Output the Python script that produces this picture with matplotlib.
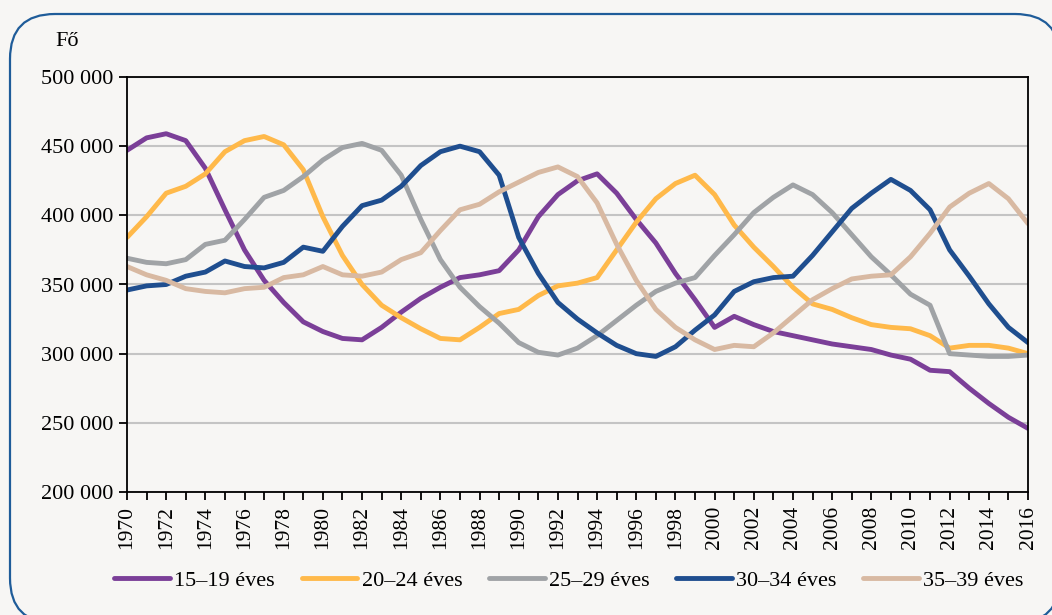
import numpy as np
import matplotlib
matplotlib.use("Agg")
import matplotlib.pyplot as plt
from matplotlib.patches import FancyBboxPatch

plt.rcParams['font.family'] = ['Liberation Serif', 'DejaVu Serif']

years = list(range(1970, 2017))

age_15_19 = [447, 456, 459, 454, 434, 404, 375, 353, 337, 323, 316, 311, 310, 319, 330, 340,
             348, 355, 357, 360, 375, 399, 415, 425, 430, 416, 397, 380, 358, 339, 319, 327,
             321, 316, 313, 310, 307, 305, 303, 299, 296, 288, 287, 275, 264, 254, 246]
age_20_24 = [384, 399, 416, 421, 430, 446, 454, 457, 451, 433, 399, 371, 350, 335, 326, 318,
             311, 310, 319, 329, 332, 342, 349, 351, 355, 375, 395, 412, 423, 429, 415, 393,
             377, 363, 348, 336, 332, 326, 321, 319, 318, 313, 304, 306, 306, 304, 300]
age_25_29 = [369, 366, 365, 368, 379, 382, 397, 413, 418, 428, 440, 449, 452, 447, 429, 397,
             368, 348, 334, 322, 308, 301, 299, 304, 313, 324, 335, 345, 351, 355, 371, 386,
             402, 413, 422, 415, 402, 386, 370, 357, 343, 335, 300, 299, 298, 298, 299]
age_30_34 = [346, 349, 350, 356, 359, 367, 363, 362, 366, 377, 374, 392, 407, 411, 421, 436,
             446, 450, 446, 429, 384, 358, 337, 325, 315, 306, 300, 298, 305, 317, 328, 345,
             352, 355, 356, 371, 388, 405, 416, 426, 418, 404, 375, 356, 336, 319, 308]
age_35_39 = [363, 357, 353, 347, 345, 344, 347, 348, 355, 357, 363, 357, 356, 359, 368, 373,
             389, 404, 408, 417, 424, 431, 435, 428, 409, 379, 353, 332, 319, 310, 303, 306,
             305, 315, 327, 339, 347, 354, 356, 357, 370, 387, 406, 416, 423, 412, 394]

series = [
    ("15–19 éves", age_15_19, "#7b3f98"),
    ("20–24 éves", age_20_24, "#ffb94a"),
    ("25–29 éves", age_25_29, "#a0a3a6"),
    ("30–34 éves", age_30_34, "#1f4e8f"),
    ("35–39 éves", age_35_39, "#d8b9a2"),
]

bg = "#f7f6f4"
W, H = 1052, 615
fig = plt.figure(figsize=(W / 100, H / 100), dpi=100, facecolor=bg)

# rounded frame around the whole chart
frame = fig.add_axes([0, 0, 1, 1])
frame.set_xlim(0, W)
frame.set_ylim(H, 0)
frame.axis("off")
frame.add_patch(FancyBboxPatch((10, 14), 1060 - 10, 623 - 14,
                               boxstyle="round,pad=0,rounding_size=45",
                               fc=bg, ec="#1f5c99", lw=1.6, clip_on=False))

ax = fig.add_axes([127 / W, 1 - 492 / H, (1028 - 127) / W, (492 - 77) / H])
ax.set_facecolor(bg)

for label, vals, color in series:
    ax.plot(years, np.array(vals) * 1000, color=color, lw=3.5, label=label,
            solid_capstyle="round", solid_joinstyle="round")

ax.set_xlim(1970, 2016)
ax.set_ylim(200000, 500000)
ax.set_yticks(range(200000, 500001, 50000))
ax.set_yticklabels([f"{v // 1000} 000" for v in range(200000, 500001, 50000)], fontsize=16)
ax.set_xticks(years)
ax.set_xticklabels([str(y) if y % 2 == 0 else "" for y in years], rotation=90, fontsize=15.5)
ax.yaxis.grid(True, color="#c4c4c4", lw=1.5)
ax.set_axisbelow(True)
for sp in ax.spines.values():
    sp.set_color("black")
    sp.set_linewidth(1.3)
ax.tick_params(axis="both", direction="out", length=6, width=1.3, colors="black", pad=4)

fig.text(55 / W, 1 - 42 / H, "Fő", fontsize=16, va="center", ha="left")

fig.legend(loc="center", bbox_to_anchor=(0.541, 1 - 581 / H), ncol=5, frameon=False,
           fontsize=16, handlelength=2.5, handletextpad=0.2, columnspacing=1.2)

fig.savefig("out.png", dpi=100, facecolor=bg)
